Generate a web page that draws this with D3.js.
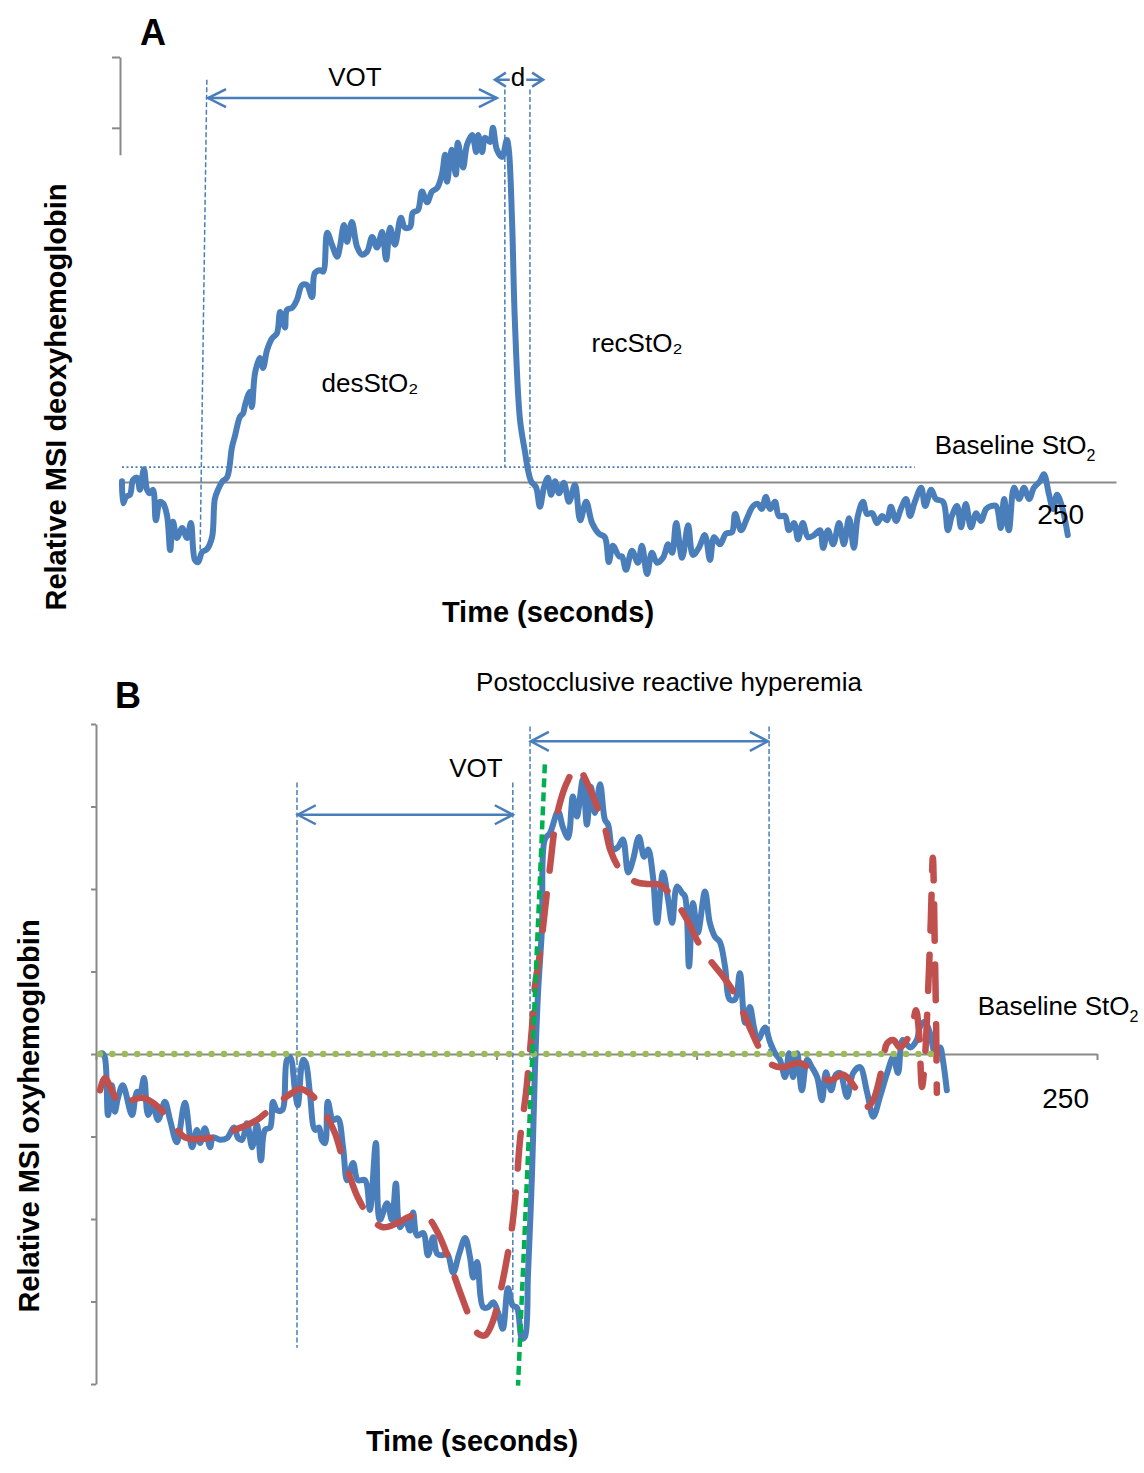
<!DOCTYPE html>
<html><head><meta charset="utf-8">
<script src="https://cdn.jsdelivr.net/npm/d3@7"></script>
<style>
body{margin:0;background:#fff;}
svg{display:block;font-family:"Liberation Sans",Arial,Helvetica,sans-serif;}
</style></head><body>
<svg id="chart" width="1144" height="1473"></svg>
<script>
// ---------------- DATA ----------------
// Panel A: relative MSI deoxyhemoglobin, [time (s), value]
const deoxyA = [[0.5,0.1],[0.8,-3.0],[1.5,-2.1],[2.5,-1.8],[3.3,0.3],[4.3,0.6],[5.0,-1.1],[6.0,1.8],[6.8,-1.1],[7.5,-1.6],
[8.3,-1.1],[9.0,-5.4],[10.0,-2.8],[10.8,-3.0],[11.8,-4.7],[12.6,-9.6],[13.3,-5.6],[14.3,-7.9],[15.6,-6.5],[16.8,-7.9],
[17.8,-5.8],[18.8,-11.0],[19.6,-11.3],[20.6,-9.9],[21.8,-9.5],[23.1,-7.8],[23.8,-2.4],[24.6,-1.1],[25.6,0],[26.9,0.7],
[28.1,4.9],[28.9,6.6],[30.1,9.2],[30.9,9.7],[31.4,10.9],[32.6,12.7],[33.1,10.6],[33.9,15.4],[35.1,17.5],[35.9,16.1],
[36.9,18.6],[38.2,20.3],[39.4,21.0],[40.2,24.0],[41.4,21.8],[41.9,24.3],[43.2,24.6],[44.4,25.7],[45.7,27.8],[46.9,27.8],
[48.2,26.1],[48.9,29.5],[50.2,29.9],[51.0,29.7],[52.0,35.2],[53.2,33.5],[54.5,31.8],[55.2,33.2],[56.2,36.3],[57.0,33.9],
[58.2,36.7],[59.5,33.2],[60.7,32.1],[62.0,32.5],[63.3,34.6],[64.5,33.1],[65.8,35.3],[66.8,31.4],[67.8,35.9],[69.0,33.5],
[70.5,37.3],[71.5,35.9],[72.8,36.0],[73.5,38.0],[74.8,38.4],[75.8,41.0],[77.1,39.5],[78.3,41.0],[79.6,41.5],[80.8,43.4],
[81.6,46.2],[82.1,42.4],[83.3,46.9],[84.3,43.4],[84.8,47.9],[86.1,44.4],[87.1,47.6],[88.4,49.0],[89.4,46.6],[89.9,49.0],
[90.9,46.6],[91.6,48.6],[92.9,48.0],[93.6,50.0],[94.6,46.9],[95.9,45.9],[97.1,48.3],[97.6,46.9],[98.4,37.0],[99.1,22.9],
[100.4,8.8],[101.7,4.1],[102.4,1.7],[103.2,0.1],[104.4,-0.7],[105.4,-3.5],[106.4,-0.8],[107.4,0.6],[108.2,-1.8],[109.2,0.1],
[110.2,-1.6],[111.4,-0.1],[112.7,-2.8],[114.2,-0.4],[115.5,-5.4],[117.0,-2.8],[118.5,-5.8],[120.2,-7.3],[121.7,-7.8],[122.7,-11.3],
[123.7,-9.0],[125.3,-10.5],[126.0,-10.5],[127.0,-12.4],[128.5,-9.7],[130.0,-11.4],[131.0,-9.0],[132.3,-13.0],[133.5,-10.0],[134.8,-11.4],
[136.3,-10.7],[137.6,-8.8],[138.6,-10.0],[139.6,-5.8],[141.1,-10.7],[142.6,-6.1],[143.8,-10.3],[145.3,-9.3],[146.8,-7.5],[148.1,-11.0],
[149.1,-7.8],[150.6,-8.8],[152.1,-7.3],[153.6,-7.1],[154.4,-4.5],[155.9,-6.8],[157.4,-5.1],[158.9,-3.4],[160.1,-3.1],[161.1,-3.8],
[162.1,-2.1],[163.2,-3.8],[164.4,-2.8],[165.4,-4.8],[166.9,-4.8],[167.9,-6.8],[169.2,-5.8],[170.2,-8.1],[171.4,-5.8],[172.7,-7.8],
[174.2,-7.5],[175.7,-6.8],[176.5,-9.3],[177.7,-6.8],[179.0,-8.8],[180.5,-5.8],[181.7,-8.8],[183.0,-5.1],[184.2,-9.3],[185.2,-4.8],
[186.5,-2.8],[187.5,-4.5],[188.8,-4.4],[190.0,-5.8],[191.3,-4.8],[192.5,-5.4],[193.5,-3.5],[194.8,-5.5],[196.0,-3.8],[197.3,-2.4],
[198.3,-4.8],[199.5,-2.8],[201.1,-0.8],[202.1,-3.4],[203.6,-1.1],[204.8,-2.4],[206.6,-2.8],[207.8,-6.8],[208.8,-4.8],[210.1,-3.4],
[211.1,-6.4],[212.3,-3.1],[213.6,-6.4],[214.9,-4.4],[216.1,-5.5],[217.4,-3.8],[218.6,-3.4],[219.9,-3.4],[221.1,-6.5],[221.9,-2.4],
[223.1,-6.8],[224.4,-0.8],[225.7,-2.4],[226.9,-0.8],[228.2,-2.4],[229.4,-0.8],[230.9,0.1],[231.9,1.1],[233.2,-1.8],[234.2,-3.8],
[235.2,-1.8],[236.4,-3.4],[237.9,-7.5]];

// Panel B: relative MSI oxyhemoglobin, [time (s), value]
const oxyB = [[1.0,0.0],[1.5,0.1],[2.2,-0.4],[3.0,-7.4],[4.0,-3.8],[4.7,-7.0],[5.5,-5.3],[6.7,-3.8],[9.0,-7.4],[10.2,-4.6],
[11.0,-4.7],[12.0,-2.9],[13.0,-7.4],[14.2,-6.2],[15.5,-8.0],[17.2,-5.8],[18.5,-8.0],[20.2,-10.7],[22.2,-5.9],[24.0,-11.3],
[25.2,-9.2],[26.0,-10.8],[27.2,-9.0],[28.5,-11.3],[29.2,-10.1],[31.0,-10.4],[32.7,-10.2],[34.5,-8.9],[35.5,-10.2],[36.5,-10.4],
[37.7,-8.4],[39.0,-11.3],[40.2,-8.6],[41.2,-12.9],[42.2,-9.2],[43.5,-8.9],[44.2,-5.8],[45.2,-6.8],[46.5,-6.8],[47.7,-0.7],
[48.5,-0.4],[49.7,-4.4],[50.4,-6.2],[51.7,-0.7],[52.4,-1.1],[53.4,-4.6],[54.7,-9.2],[55.7,-8.9],[56.4,-10.4],[57.2,-10.8],
[57.9,-5.8],[59.2,-8.0],[60.4,-7.8],[61.7,-11.3],[62.7,-15.3],[64.2,-13.2],[65.4,-15.3],[67.2,-15.3],[68.4,-18.9],[69.9,-10.8],
[70.9,-20.1],[72.7,-18.1],[73.9,-20.1],[74.9,-15.7],[75.9,-21.0],[77.2,-20.1],[78.4,-21.4],[79.2,-19.2],[80.2,-22.0],[81.7,-21.7],
[82.9,-24.4],[84.2,-22.2],[85.2,-24.2],[86.4,-24.4],[87.7,-24.2],[89.2,-26.5],[90.7,-24.2],[92.2,-22.3],[93.4,-24.6],[94.2,-27.1],
[95.2,-25.2],[96.7,-30.7],[97.9,-30.7],[99.2,-30.1],[100.4,-31.3],[101.6,-33.3],[102.9,-28.4],[104.1,-30.5],[105.1,-30.7],[106.4,-34.5],
[107.1,-34.3],[107.9,-26.6],[108.9,-14.4],[109.6,-2.3],[110.4,7.4],[111.4,15.4],[112.1,26.0],[113.4,26.8],[115.4,29.4],[116.6,27.5],
[117.9,26.2],[119.1,31.2],[120.1,28.8],[121.6,33.3],[122.6,27.8],[123.6,32.4],[124.6,29.2],[125.9,32.7],[127.1,28.4],[127.9,27.8],
[129.1,24.8],[130.4,25.1],[131.6,26.0],[132.9,22.0],[134.1,23.5],[135.6,26.3],[136.9,23.9],[137.9,24.8],[139.1,21.5],[140.1,15.9],
[141.6,22.0],[142.9,18.7],[143.9,15.9],[145.1,20.3],[146.4,19.5],[147.1,19.1],[148.1,10.6],[149.1,18.3],[150.3,14.7],[152.1,19.7],
[153.3,15.9],[154.6,14.2],[155.8,13.6],[157.1,10.6],[158.3,6.6],[159.6,6.6],[160.8,9.8],[162.1,3.8],[163.3,5.7],[164.3,3.3],
[165.3,1.7],[167.1,3.2],[168.3,1.5],[169.6,0.1],[170.8,-0.7],[172.1,-2.8],[173.1,0.1],[174.1,-2.8],[175.1,0.1],[176.3,-4.4],
[177.6,-0.7],[178.8,-1.6],[180.1,-2.8],[181.3,-5.6],[182.3,-2.2],[183.6,-4.4],[184.8,-2.5],[185.8,-2.3],[187.6,-5.2],[189.1,-2.3],
[190.8,-1.6],[192.6,-4.7],[194.1,-7.6],[195.8,-5.2],[197.6,-2.3],[199.1,-0.4],[200.3,-2.3],[201.5,1.7],[203.3,0.8],[205.0,1.7],
[205.8,3.3],[207.0,3.9],[208.3,2.5],[209.6,0.1],[210.8,0.8],[211.5,-0.7],[212.5,-4.4]];

// Panel B: smoothed fit (red dashed), [time (s), value]
const fitB = [[1.0,-4.4],[2.2,-2.9],[4.2,-4.7],[6.5,-6.4],[9.0,-5.6],[11.5,-5.3],[14.2,-5.9],[16.7,-7.0],[19.7,-8.9],[22.2,-10.1],
[24.2,-10.3],[29.2,-10.1],[34.7,-9.2],[40.2,-8.0],[44.2,-6.4],[49.0,-4.7],[50.9,-4.2],[53.9,-5.0],[56.7,-6.8],[59.7,-9.6],
[61.4,-12.3],[63.4,-14.9],[65.4,-17.4],[68.4,-19.8],[71.7,-21.0],[75.2,-20.5],[77.9,-19.8],[80.9,-19.4],[82.9,-19.8],[85.4,-21.7],
[87.9,-24.6],[89.7,-27.2],[91.7,-29.9],[93.4,-32.0],[95.4,-33.9],[97.2,-34.1],[99.2,-32.3],[100.9,-29.0],[102.1,-26.2],[103.9,-21.0],
[105.1,-15.3],[105.9,-10.4],[107.4,-4.7],[107.9,-2.2],[108.9,3.3],[109.6,8.1],[110.9,12.3],[112.6,19.5],[113.4,22.7],[114.6,27.5],
[115.9,30.5],[117.6,32.9],[120.1,34.8],[122.9,32.6],[125.1,30.0],[127.1,27.4],[128.4,24.8],[130.4,22.7],[132.6,21.5],[135.1,20.8],
[137.9,20.6],[140.9,20.5],[144.1,18.9],[147.6,16.3],[150.1,13.8],[153.3,11.4],[156.3,9.6],[159.6,7.2],[162.1,4.5],[164.1,2.3],
[166.6,-0.1],[168.8,-1.3],[171.3,-1.6],[175.8,-1.1],[180.3,-2.5],[183.3,-3.2],[186.6,-2.5],[189.6,-4.1],[192.6,-6.4],[194.1,-5.6],
[196.3,-1.7],[197.6,1.3],[199.1,1.7],[200.8,0.8],[202.5,1.7],[203.8,3.3],[204.8,5.3],[205.5,2.9],[206.3,-4.0],[207.0,-0.7],
[207.8,7.4],[208.5,16.3],[209.0,23.8],[209.5,12.6],[209.8,4.1],[210.0,-4.7]];

// Panel B: reperfusion slope (green dashed), [time (s), value]
const slopeB = [[112.1,35.1],[105.4,-40.2]];

// Baselines
const baselineA = [[0.5,2.1],[199.5,2.1]];
const baselineB = [[1.0,0],[210.0,0]];

// Tick labels / ticks
const xTickLabelValues = [250];
const xTickLabels = ["250"];
const xTicksB = [0,50,100,150,200,250];
const yTicksB = [-40,-30,-20,-10,0,10,20,30,40];
const yTicksA = [50,60];
const yAxisVisibleA = [46.2,60];

// Annotation positions (data units)
const vLinesA = [[[21.8,56.8],[20.1,-10.3]],[[96.6,55.4],[96.6,2.1]],[[102.9,55.4],[102.9,-0.8]]];
const vLinesB = [[[50.2,32.9],[50.2,-35.6]],[[104.1,32.9],[104.1,-35.3]],[[108.4,39.7],[108.4,-0.7]],[[168.1,39.7],[168.1,0]]];

// ---------------- DRAW ----------------
const svg = d3.select("#chart");
svg.append("rect").attr("width",1144).attr("height",1473).attr("fill","#fff");
const axisColor = "#898989", blue = "#4A7EBB", red = "#C0504D", green = "#00B050", lightGreen = "#9BBB59";

const xA = d3.scaleLinear().domain([0,250]).range([120,1116]);
const yA = d3.scaleLinear().domain([0,60]).range([482,57]);
const xB = d3.scaleLinear().domain([0,250]).range([96,1097]);
const yB = d3.scaleLinear().domain([-40,40]).range([1384,724]);

function styleAxis(g){
  g.selectAll(".domain").attr("stroke",axisColor).attr("stroke-width",2);
  g.selectAll(".tick line").attr("stroke",axisColor).attr("stroke-width",2);
  g.selectAll(".tick text").remove();
}
function arrow(g,x1,x2,y,L,H){
  g.append("line").attr("x1",x1).attr("x2",x2).attr("y1",y).attr("y2",y)
    .attr("stroke",blue).attr("stroke-width",2.5);
  g.append("path").attr("d",`M${x1+L},${y-H}L${x1},${y}L${x1+L},${y+H}`)
    .attr("fill","none").attr("stroke",blue).attr("stroke-width",2.5);
  g.append("path").attr("d",`M${x2-L},${y-H}L${x2},${y}L${x2-L},${y+H}`)
    .attr("fill","none").attr("stroke",blue).attr("stroke-width",2.5);
}
function text(g,x,y,s,size,weight,anchor){
  return g.append("text").attr("x",x).attr("y",y).text(s)
    .attr("font-size",size).attr("font-weight",weight||"normal")
    .attr("text-anchor",anchor||"middle").attr("fill","#000");
}
function baselineLabel(g,x,y){
  const t = g.append("text").attr("x",x).attr("y",y).attr("font-size",26).attr("text-anchor","middle").attr("fill","#000");
  t.append("tspan").text("Baseline StO");
  t.append("tspan").text("2").attr("font-size",16).attr("dy",7);
}

// ===== Panel A =====
const gA = svg.append("g");
gA.append("g").attr("transform",`translate(0,${yA(0)})`)
  .call(d3.axisBottom(xA).tickValues([]).tickSizeOuter(0)).call(styleAxis);
const yAfrag = d3.scaleLinear().domain(yAxisVisibleA).range([yA(yAxisVisibleA[0]),yA(yAxisVisibleA[1])]);
gA.append("g").attr("transform",`translate(${xA(0)},0)`)
  .call(d3.axisLeft(yAfrag).tickValues(yTicksA).tickSize(8).tickSizeOuter(0)).call(styleAxis);

const lineA = d3.line().x(d=>xA(d[0])).y(d=>yA(d[1]));
gA.append("path").attr("d",lineA(baselineA)).attr("fill","none").attr("stroke",blue)
  .attr("stroke-width",1.6).attr("stroke-dasharray","2,2.5");
vLinesA.forEach(s=>gA.append("path").attr("d",lineA(s)).attr("fill","none").attr("stroke",blue)
  .attr("stroke-width",1.5).attr("stroke-dasharray","5,2.5"));
gA.append("path").attr("d",lineA.curve(d3.curveCatmullRom.alpha(0.5))(deoxyA))
  .attr("fill","none").attr("stroke",blue).attr("stroke-width",6)
  .attr("stroke-linejoin","round").attr("stroke-linecap","round");

arrow(gA,xA(22.1),xA(94.6),yA(54.2),18,9);
arrow(gA,xA(94.1),xA(106.2),yA(56.8),11,7);
text(gA,355,86,"VOT",26);
const dt = text(gA,518,86,"d",26);
const bb = dt.node().getBBox();
gA.insert("rect",()=>dt.node()).attr("x",bb.x-1).attr("y",bb.y+2).attr("width",bb.width+2).attr("height",bb.height-4).attr("fill","#fff");
text(gA,370,392,"desStO\u2082",26);
text(gA,637,352,"recStO\u2082",26);
baselineLabel(gA,1015,454);
text(gA,xA(xTickLabelValues[0])-32,524,xTickLabels[0],28,"normal","end");
text(gA,153,45,"A",36,"bold");
text(gA,548,622,"Time (seconds)",29,"bold");
gA.append("text").attr("transform","translate(66,397) rotate(-90)").attr("text-anchor","middle")
  .attr("font-size",29).attr("font-weight","bold").text("Relative MSI deoxyhemoglobin");

// ===== Panel B =====
const gB = svg.append("g");
gB.append("g").attr("transform",`translate(0,${yB(0)})`)
  .call(d3.axisBottom(xB).tickValues(xTicksB).tickSize(6).tickSizeOuter(0)).call(styleAxis);
gB.append("g").attr("transform",`translate(${xB(0)},0)`)
  .call(d3.axisLeft(yB).tickValues(yTicksB).tickSize(5).tickSizeOuter(0)).call(styleAxis);

const lineB = d3.line().x(d=>xB(d[0])).y(d=>yB(d[1]));
vLinesB.forEach(s=>gB.append("path").attr("d",lineB(s)).attr("fill","none").attr("stroke",blue)
  .attr("stroke-width",1.5).attr("stroke-dasharray","5,2.5"));
gB.append("path").attr("d",lineB.curve(d3.curveCatmullRom.alpha(0.5))(oxyB))
  .attr("fill","none").attr("stroke",blue).attr("stroke-width",6)
  .attr("stroke-linejoin","round").attr("stroke-linecap","round");
gB.append("path").attr("d",lineB.curve(d3.curveCatmullRom.alpha(0.5))(fitB))
  .attr("fill","none").attr("stroke",red).attr("stroke-width",6.5)
  .attr("stroke-dasharray","36,24").attr("stroke-linecap","round").attr("stroke-linejoin","round");
gB.append("path").attr("d",lineB.curve(d3.curveLinear)(baselineB))
  .attr("fill","none").attr("stroke",lightGreen).attr("stroke-width",6.5)
  .attr("stroke-dasharray","0,12.4").attr("stroke-linecap","round");
gB.append("path").attr("d",lineB.curve(d3.curveLinear)(slopeB))
  .attr("fill","none").attr("stroke",green).attr("stroke-width",4.5)
  .attr("stroke-dasharray","9,5");

arrow(gB,xB(50.4),xB(104.1),yB(29.0),18,9.5);
arrow(gB,xB(108.6),xB(167.8),yB(37.9),18,9.5);
text(gB,476,777,"VOT",26);
text(gB,669,691,"Postocclusive reactive hyperemia",26);
baselineLabel(gB,1058,1015);
text(gB,xB(xTickLabelValues[0])-8,1108,xTickLabels[0],28,"normal","end");
text(gB,128,708,"B",36,"bold");
text(gB,472,1451,"Time (seconds)",29,"bold");
gB.append("text").attr("transform","translate(39,1116) rotate(-90)").attr("text-anchor","middle")
  .attr("font-size",29).attr("font-weight","bold").text("Relative MSI oxyhemoglobin");
</script>
</body></html>
